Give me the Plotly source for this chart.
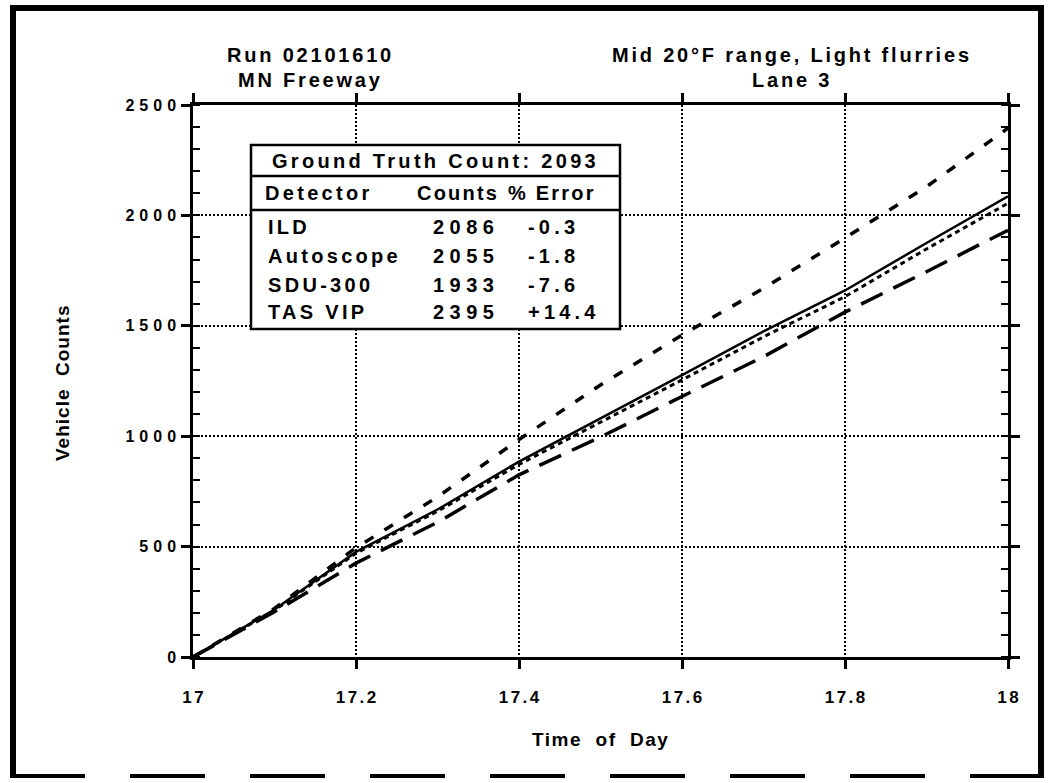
import plotly.graph_objects as go

# ---------------- data ----------------
time_of_day = [17.0, 17.1, 17.2, 17.3, 17.4, 17.5, 17.6, 17.7, 17.8, 17.9, 18.0]
ild_counts = [0, 215, 476, 668, 885, 1080, 1277, 1475, 1660, 1875, 2086]
autoscope_counts = [0, 212, 470, 660, 872, 1062, 1255, 1450, 1632, 1848, 2055]
sdu300_counts = [0, 205, 425, 610, 825, 996, 1180, 1360, 1562, 1745, 1933]
tasvip_counts = [0, 220, 495, 725, 985, 1232, 1458, 1670, 1898, 2130, 2395]

x_tick_text = ["17", "17.2", "17.4", "17.6", "17.8", "18"]
y_tick_text = ["0", "500", "1000", "1500", "2000", "2500"]

ground_truth = 2093
detectors = ["ILD", "Autoscope", "SDU-300", "TAS VIP"]
det_counts = [2086, 2055, 1933, 2395]
det_errors = ["-0.3", "-1.8", "-7.6", "+14.4"]

FONT = "Liberation Sans, Arial, sans-serif"


def sp(text, ls):
    return f'<span style="letter-spacing:{ls}px">{text}</span>'


def sp_tick(text, ls):
    # letter-spaced label without trailing space after the last glyph
    if len(text) < 2:
        return text
    return sp(text[:-1], ls) + text[-1]


# plot area in pixels: x 193..1008, y 105..657
def PX(x):
    return (x - 193) / 815.0


def PY(y):
    return (657 - y) / 552.0


fig = go.Figure()

series = [
    ("ILD", ild_counts, "solid", 2.5),
    ("Autoscope", autoscope_counts, "5px,4px", 3.0),
    ("SDU-300", sdu300_counts, "24px,12px", 3.5),
    ("TAS VIP", tasvip_counts, "10px,13px", 3.5),
]
for name, vals, dash, w in series:
    fig.add_trace(go.Scatter(x=time_of_day, y=vals, mode="lines", name=name,
                             line=dict(color="black", width=w, dash=dash),
                             showlegend=False, hoverinfo="skip"))

fig.update_xaxes(range=[17, 18], tickmode="linear", tick0=17, dtick=0.2,
                 labelalias={t: sp_tick(t, 2.5) for t in x_tick_text},
                 showline=True, linewidth=2.5, linecolor="black", mirror="ticks",
                 ticks="outside", ticklen=9, tickwidth=2.5, tickcolor="black",
                 showgrid=True, gridcolor="black", gridwidth=2, griddash="2px,2px",
                 zeroline=False, ticklabelstandoff=14,
                 tickfont=dict(family=FONT, size=17, color="black", weight="bold"))
fig.update_yaxes(range=[0, 2500], tickmode="linear", tick0=0, dtick=500,
                 labelalias={t: sp_tick(t, 5) for t in y_tick_text},
                 showline=True, linewidth=2.5, linecolor="black", mirror="ticks",
                 ticks="outside", ticklen=9, tickwidth=2.5, tickcolor="black",
                 minor=dict(ticks="inside", ticklen=7, tickwidth=2, tickcolor="black",
                            tickmode="linear", tick0=0, dtick=100, showgrid=False),
                 showgrid=True, gridcolor="black", gridwidth=2, griddash="2px,2px",
                 zeroline=False, ticklabelstandoff=2,
                 tickfont=dict(family=FONT, size=16, color="black", weight="bold"))

shapes = []
# outer frame
shapes.append(dict(type="line", xref="paper", yref="paper", x0=PX(13), x1=PX(13), y0=PY(5), y1=PY(778),
                   line=dict(color="black", width=6)))
shapes.append(dict(type="line", xref="paper", yref="paper", x0=PX(10), x1=PX(1044), y0=PY(8), y1=PY(8),
                   line=dict(color="black", width=6)))
shapes.append(dict(type="line", xref="paper", yref="paper", x0=PX(1041), x1=PX(1041), y0=PY(5), y1=PY(778),
                   line=dict(color="black", width=6)))
shapes.append(dict(type="line", xref="paper", yref="paper", x0=PX(10), x1=PX(1044), y0=PY(776), y1=PY(776),
                   line=dict(color="black", width=4, dash="75px,45px")))
# table box
shapes.append(dict(type="rect", xref="paper", yref="paper", x0=PX(251), x1=PX(620), y0=PY(145), y1=PY(329),
                   line=dict(color="black", width=2.5), fillcolor="white", layer="above"))
shapes.append(dict(type="line", xref="paper", yref="paper", x0=PX(251), x1=PX(620), y0=PY(176), y1=PY(176),
                   line=dict(color="black", width=2.5), layer="above"))
shapes.append(dict(type="line", xref="paper", yref="paper", x0=PX(251), x1=PX(620), y0=PY(210), y1=PY(210),
                   line=dict(color="black", width=2.5), layer="above"))

ann = []


def add_text(text, x, y, size=20, ls=3, xanchor="center", angle=0):
    ann.append(dict(text=sp(text, ls) if ls else text, x=PX(x), y=PY(y), xref="paper", yref="paper",
                    showarrow=False, xanchor=xanchor, yanchor="middle", textangle=angle,
                    font=dict(family=FONT, size=size, color="black", weight="bold")))


# titles
add_text("Run 02101610", 310, 55, size=20, ls=2.8)
add_text("MN Freeway", 310, 80, size=20, ls=2.8)
add_text("Mid 20°F range, Light flurries", 792, 55, size=20, ls=2.8)
add_text("Lane 3", 792, 80, size=20, ls=2.8)
# axis titles
add_text("Time\u00a0\u00a0of\u00a0\u00a0Day", 600, 739, size=19, ls=1.5)
add_text("Vehicle\u00a0\u00a0Counts", 62, 383, size=19, ls=1.0, angle=-90)

# table text
add_text(f"Ground Truth Count: {ground_truth}", 435, 161, size=20, ls=3.3)
add_text("Detector", 263, 193, size=20, ls=3.3, xanchor="left")
add_text("Counts", 501, 193, size=20, ls=2.2, xanchor="right")
add_text("% Error", 506, 193, size=20, ls=2.2, xanchor="left")
row_y = [227, 256, 285, 312]
for name, cnt, err, yy in zip(detectors, det_counts, det_errors, row_y):
    add_text(name, 266, yy, size=20, ls=3.3, xanchor="left")
    add_text(str(cnt), 502, yy, size=20, ls=5.5, xanchor="right")
    add_text(err, 526, yy, size=20, ls=4.2, xanchor="left")

fig.update_layout(width=1050, height=783, margin=dict(l=193, r=42, t=105, b=126),
                  plot_bgcolor="white", paper_bgcolor="white",
                  shapes=shapes, annotations=ann, hovermode=False,
                  font=dict(family=FONT, color="black"))

fig.write_html("out.html", config={"displayModeBar": False},
               post_script="document.body.style.margin='0';document.body.style.overflow='hidden';")
